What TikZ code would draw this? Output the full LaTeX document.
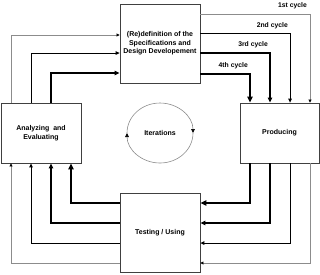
\documentclass[tikz,border=0pt]{standalone}
\usepackage{fontspec}
\setmainfont{Liberation Sans}
\usetikzlibrary{arrows.meta}
\begin{document}
\begin{tikzpicture}[x=1pt,y=-1pt,
  box/.style={draw=black!75,line width=0.8pt,fill=white,inner sep=0pt,
    font=\fontsize{7}{8.7}\selectfont\bfseries,align=center},
  cyc/.style={font=\fontsize{6.8}{8}\selectfont\bfseries,inner sep=0pt},
  c1/.style={draw=black!45,line width=0.6pt,-{Triangle[length=3pt,width=3pt,color=black]}},
  c2/.style={draw=black,line width=0.9pt,-{Triangle[length=4pt,width=3.6pt]}},
  c3/.style={draw=black,line width=1.3pt,-{Triangle[length=5pt,width=4.4pt]}},
  c4/.style={draw=black,line width=1.9pt,-{Triangle[length=6pt,width=5.2pt]}},
  iter/.style={draw=black!45,line width=0.6pt,-{Triangle[length=4pt,width=3.6pt,color=black]}}]
\useasboundingbox (0,0) rectangle (320,274);
\node[box,minimum width=80pt,minimum height=79pt] (top) at (160,43.5)
  {(Re)definition of the\\Specifications and\\Design Developement};
\node[box,minimum width=80pt,minimum height=60pt] (left) at (41,133)
  {Analyzing~~and\\Evaluating};
\node[box,minimum width=79pt,minimum height=60pt] (right) at (279.5,133) {Producing};
\node[box,minimum width=80pt,minimum height=79pt] (bottom) at (160,232.5) {Testing / Using};
\node[font=\fontsize{7}{8}\selectfont\bfseries,inner sep=0pt] (it) at (160,133) {Iterations};
\draw[iter] (193,133) arc[start angle=0,end angle=180,x radius=33,y radius=30];
\draw[iter] (127,133) arc[start angle=180,end angle=360,x radius=33,y radius=30];
% top -> right
\draw[c1] (top.east |- 0,14) -| (right.north -| 310,0);
\draw[c2] (top.east |- 0,33) -| (right.north -| 290,0);
\draw[c3] (top.east |- 0,53) -| (right.north -| 270,0);
\draw[c4] (top.east |- 0,74) -| (right.north -| 250,0);
% right -> bottom
\draw[c4] (right.south -| 250,0) |- (bottom.east |- 0,203);
\draw[c3] (right.south -| 270,0) |- (bottom.east |- 0,223);
\draw[c2] (right.south -| 290,0) |- (bottom.east |- 0,243);
\draw[c1] (right.south -| 310,0) |- (bottom.east |- 0,263);
% bottom -> left
\draw[c4] (bottom.west |- 0,203) -| (left.south -| 71,0);
\draw[c3] (bottom.west |- 0,223) -| (left.south -| 51,0);
\draw[c2] (bottom.west |- 0,243) -| (left.south -| 31,0);
\draw[c1] (bottom.west |- 0,263) -| (left.south -| 11,0);
% left -> top
\draw[c1] (left.north -| 11,0) |- (top.west |- 0,35);
\draw[c2] (left.north -| 31,0) |- (top.west |- 0,53);
\draw[c3] (left.north -| 51,0) |- (top.west |- 0,73);
% labels
\node[cyc,anchor=east] (l1) at (307,6) {1st cycle};
\node[cyc,anchor=east] (l2) at (288,26) {2nd cycle};
\node[cyc,anchor=east] (l3) at (268,45) {3rd cycle};
\node[cyc,anchor=east] (l4) at (248,66) {4th cycle};
\end{tikzpicture}
\end{document}
